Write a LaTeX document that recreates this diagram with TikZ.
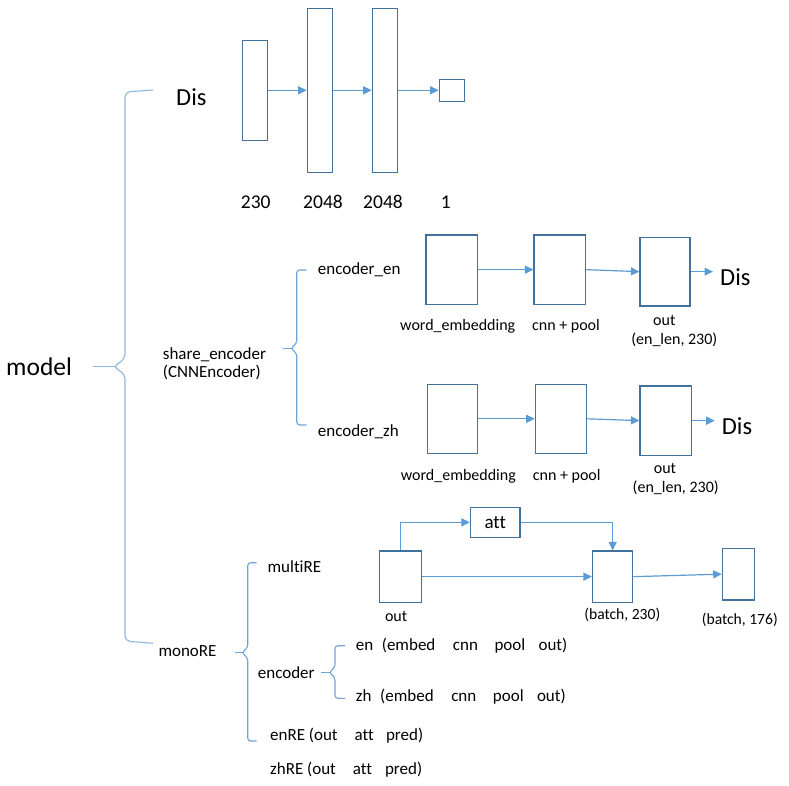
\documentclass[tikz,border=0pt]{standalone}
\usepackage{fontspec}
\setmainfont{Carlito}[Ligatures=NoCommon]
\usetikzlibrary{arrows.meta}
\definecolor{boxc}{HTML}{41719C}
\definecolor{arrc}{HTML}{5B9BD5}
\definecolor{brc}{HTML}{6FA3D8}
\definecolor{brl}{HTML}{8DB7E2}
\newcommand\mybrace[6]{%
  \draw[brace,rounded corners=3pt] (#5,#2) -- (#1,#2) -- (#1,#4-5) -- (#1-6,#4) -- (#1,#4+5) -- (#1,#3) -- (#5,#3);
  \draw[brace] (#6,#4) -- (#1-4,#4);}
\begin{document}
\begin{tikzpicture}[x=1pt,y=-1pt,
  box/.style={draw=boxc,line width=1.2pt,inner sep=0pt,minimum width=#1},
  box/.default=25pt,
  arr/.style={draw=arrc,line width=1.2pt,-{Triangle[length=8.5pt,width=8pt]}},
  brace/.style={draw=brc,line width=1.1pt},
  txt/.style={inner sep=0pt,anchor=west,font=\fontsize{17}{20}\selectfont},
  lab/.style={inner sep=0pt,font=\fontsize{16}{19}\selectfont},
  num/.style={inner sep=0pt,font=\fontsize{19.5}{22}\selectfont},
  big/.style={inner sep=0pt,anchor=west,font=\fontsize{24.5}{28}\selectfont}]
\useasboundingbox (0,0) rectangle (789,786);
\fill[white] (0,0) rectangle (789,786);

% ---- texts of the tree
\node[inner sep=0pt,anchor=west,font=\fontsize{25.5}{28}\selectfont] (model) at (6,366.7) {model};
\node[big] (dis0) at (176,96.7) {Dis};
\node[txt,align=left,font=\fontsize{17}{18}\selectfont] (share) at (162.7,363.3) {share\_encoder\\(CNNEncoder)};
\node[txt] (encen) at (317.7,270) {encoder\_en};
\node[txt] (enczh) at (317.7,431.7) {encoder\_zh};
\node[txt] (mono) at (158.3,650.7) {monoRE};
\node[txt] (multi) at (267.4,566.7) {multiRE};
\node[txt] (enc) at (257.7,672.7) {encoder};
\node[txt] (enl) at (355.7,645.7) {en\hspace{8.6pt}(embed\hspace{17.5pt}cnn\hspace{16.6pt}pool\hspace{13.3pt}out)};
\node[txt] (zhl) at (355.7,696.7) {zh\hspace{8.7pt}(embed\hspace{17.5pt}cnn\hspace{16.7pt}pool\hspace{13.3pt}out)};
\node[txt] (enre) at (270,736) {enRE (out\hspace{17pt}att\hspace{12.2pt}pred)};
\node[txt] (zhre) at (270,769.3) {zhRE (out\hspace{17pt}att\hspace{13pt}pred)};

% ---- braces
\draw[draw=brl,line width=1.1pt,rounded corners=5pt] (153,90) -- (125,92) -- (125,359) -- (113,366.7) -- (125,374) -- (125,641) -- (153,643.3);
\draw[draw=brl,line width=1.1pt] (93,366.7) -- (116,366.7);
\mybrace{296.7}{270}{425}{348.3}{306.7}{282.7}
\mybrace{247.7}{562.7}{741}{652.7}{256.7}{235}
\mybrace{335}{645.7}{698.3}{672.3}{345}{321}

% ---- Dis network
\node[box,minimum height=100pt] (d1) at (254.8,90.3) {};
\node[box,minimum height=164pt] (d2) at (319.8,90.3) {};
\node[box,minimum height=164pt] (d3) at (384.8,90.3) {};
\node[box,minimum height=22pt] (d4) at (451.8,90.3) {};
\draw[arr] (d1.east) -- (d2.west);
\draw[arr] (d2.east) -- (d3.west);
\draw[arr] (d3.east) -- (d4.west);
\node[num] (n1) at (255.7,202) {230};
\node[num] (n2) at (323,202) {2048};
\node[num] (n3) at (383,202) {2048};
\node[num] (n4) at (445.7,202) {1};

% ---- encoder_en
\node[box=51.7pt,minimum height=69.3pt] (ea) at (451.85,269.65) {};
\node[box=51.7pt,minimum height=69.3pt] (eb) at (559.85,269.65) {};
\node[box=50pt,minimum height=68.7pt] (ec) at (665,271.65) {};
\node[big] (disen) at (720,276.7) {Dis};
\draw[arr] (ea.east) -- (eb.west);
\draw[arr] (eb.east) -- (ec.west);
\draw[arr,shorten >=7pt] (ec.east) -- (ec.east -| disen.west);
\node[lab] (ela) at (457.7,326.7) {word\_embedding};
\node[lab] (elb) at (566,326.7) {cnn + pool};
\node[lab] (elc) at (664.3,320.7) {out};
\node[lab] (eld) at (674.3,339.3) {(en\_len, 230)};

% ---- encoder_zh
\node[box=50.4pt,minimum height=69pt] (za) at (452.5,418.8) {};
\node[box=51.4pt,minimum height=69pt] (zb) at (561,418.8) {};
\node[box=51.7pt,minimum height=69.3pt] (zc) at (665.85,420.65) {};
\node[big] (diszh) at (721.7,426) {Dis};
\draw[arr] (za.east) -- (zb.west);
\draw[arr] (zb.east) -- (zc.west);
\draw[arr,shorten >=7pt] (zc.east) -- (zc.east -| diszh.west);
\node[lab] (zla) at (458.3,476.7) {word\_embedding};
\node[lab] (zlb) at (566.7,476.7) {cnn + pool};
\node[lab] (zlc) at (665,468.3) {out};
\node[lab] (zld) at (675.7,487.3) {(en\_len, 230)};

% ---- multiRE
\node[draw=boxc,line width=1.2pt,inner sep=0pt,minimum width=49.5pt,minimum height=30pt,font=\fontsize{19}{21}\selectfont] (att) at (495.2,522.3) {att};
\node[box=42.1pt,minimum height=51.3pt] (mo) at (400.65,576.65) {};
\node[box=40.3pt,minimum height=51.3pt] (mb) at (612.65,576.65) {};
\node[box=31.9pt,minimum height=51.7pt] (mc) at (738.25,574.15) {};
\draw[arr] (mo.north) |- (att.west);
\draw[arr] (att.east) -| (mb.north);
\draw[arr] (mo.east) -- (mb.west);
\draw[arr] (mb.east) -- (mc.west);
\node[lab] (mlo) at (396.1,616) {out};
\node[lab,font=\fontsize{15.6}{18}\selectfont] (mlb) at (622.3,615) {(batch, 230)};
\node[lab,font=\fontsize{15.6}{18}\selectfont] (mlc) at (739.8,620) {(batch, 176)};
\end{tikzpicture}
\end{document}
